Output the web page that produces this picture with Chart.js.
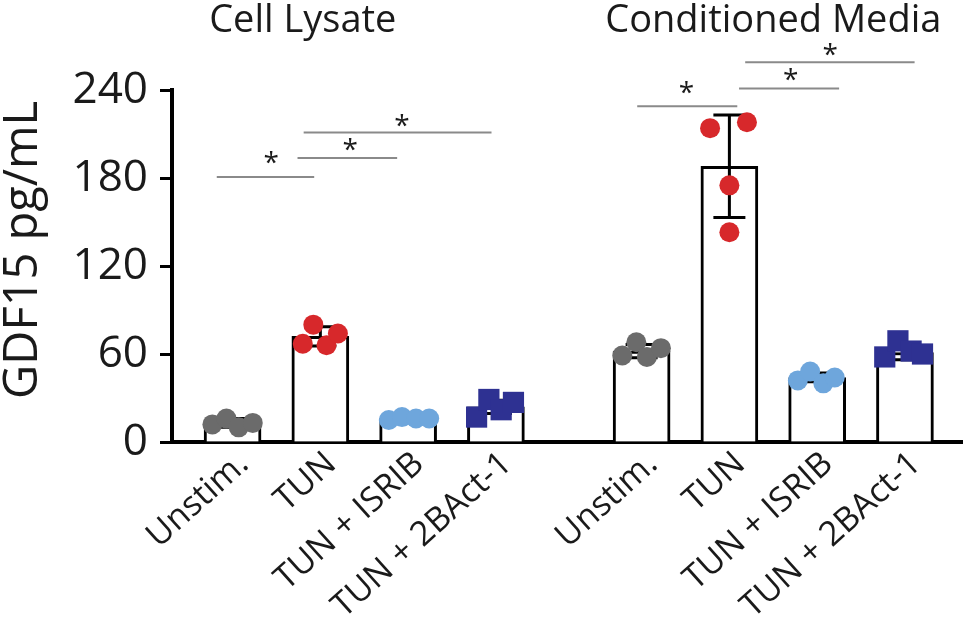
<!DOCTYPE html>
<html>
<head>
<meta charset="utf-8">
<script src="https://cdn.jsdelivr.net/npm/chart.js@4"></script>
<style>
  html, body { margin: 0; padding: 0; background: #fff; }
  #wrap { width: 977px; height: 638px; }
</style>
</head>
<body>
<div id="wrap"><canvas id="gdfChart"></canvas></div>
<script>
const categories = ["Unstim.", "TUN", "TUN + ISRIB", "TUN + 2BAct-1"];
const groupTitles = ["Cell Lysate", "Conditioned Media"];
const titlePositions = [0.8, 6.16];
const barPositions = [0, 1, 2, 3, 4.66, 5.66, 6.66, 7.66];
const yTicks = [0, 60, 120, 180, 240];
const yTitle = "GDF15 pg/mL";

// bar height (mean) and SD, cell lysate first then conditioned media
const barMeans = [13, 72, 16, 24, 62, 188, 44, 61];
const barErrors = [3, 6.5, 1, 4.5, 4.5, 35, 3, 5];

// replicates for each bar, left to right
const replicates = [
    [12, 16, 10, 13], [67, 80, 66, 74], [15, 17, 16, 16], [17, 29, 22, 27],
    [59, 68, 58, 64], [214, 218, 175, 143], [42, 48, 40, 44], [58, 69, 62, 60]
];
// sideways spread of the replicate dots
const jitter = [
    [-0.23, -0.07, 0.07, 0.23], [-0.2, -0.08, 0.07, 0.2], [-0.22, -0.07, 0.09, 0.24], [-0.22, -0.08, 0.06, 0.2],
    [-0.22, -0.06, 0.06, 0.22], [-0.22, 0.2, 0, 0], [-0.22, -0.08, 0.07, 0.2], [-0.23, -0.08, 0.07, 0.2]
];
const pointColors = ["#6b6b6b", "#d7282b", "#6ea6dc", "#2e3192"];

// significance lines: from/to/line value, star position
const sigBrackets = [
    { from: -0.18, to: 0.93, y: 180.7, sx: 0.44, sy: 193.6 },
    { from: 0.74, to: 1.875, y: 193.6, sx: 1.34, sy: 202.5 },
    { from: 0.81, to: 2.95, y: 211, sx: 1.93, sy: 218.9 },
    { from: 4.61, to: 5.75, y: 229, sx: 5.17, sy: 241.4 },
    { from: 5.77, to: 6.91, y: 241, sx: 6.36, sy: 250.2 },
    { from: 5.84, to: 7.77, y: 259, sx: 6.81, sy: 267.3 }
];

const FONT = "'Open Sans', sans-serif";
const INK = "#1a1a1a";

const scatterSets = categories.map((name, t) => {
    const pts = [];
    [t, t + 4].forEach(b => {
        replicates[b].forEach((v, r) => pts.push({ x: barPositions[b] + jitter[b][r], y: v }));
    });
    return {
        type: "scatter",
        label: name,
        data: pts,
        backgroundColor: pointColors[t],
        borderWidth: 0,
        pointStyle: t === 3 ? "rect" : "circle",
        pointRadius: t === 3 ? 15 : 10,
        pointHoverRadius: t === 3 ? 15 : 10,
        order: 1,
        clip: false
    };
});

const overlay = {
    id: "overlay",
    afterDatasetDraw(chart, args) {
        if (args.meta.type !== "bar") return;
        const { ctx, scales: { x, y } } = chart;
        ctx.save();
        ctx.strokeStyle = "#000";
        ctx.lineWidth = 3;
        barMeans.forEach((m, i) => {
            const px = x.getPixelForValue(barPositions[i]);
            const top = y.getPixelForValue(m + barErrors[i]);
            const bot = y.getPixelForValue(m - barErrors[i]);
            ctx.beginPath();
            ctx.moveTo(px, top); ctx.lineTo(px, bot);
            ctx.moveTo(px - 16, top); ctx.lineTo(px + 16, top);
            ctx.moveTo(px - 16, bot); ctx.lineTo(px + 16, bot);
            ctx.stroke();
        });
        ctx.restore();
    },
    afterDraw(chart) {
        const { ctx, scales: { x, y } } = chart;
        ctx.save();
        ctx.strokeStyle = "#8a8a8a";
        ctx.lineWidth = 2;
        ctx.fillStyle = INK;
        ctx.textAlign = "center";
        ctx.textBaseline = "middle";
        ctx.font = "28px " + FONT;
        sigBrackets.forEach(s => {
            const yy = y.getPixelForValue(s.y);
            ctx.beginPath();
            ctx.moveTo(x.getPixelForValue(s.from), yy);
            ctx.lineTo(x.getPixelForValue(s.to), yy);
            ctx.stroke();
            ctx.fillText("*", x.getPixelForValue(s.sx), y.getPixelForValue(s.sy) + 6);
        });
        ctx.font = "38px " + FONT;
        ctx.textBaseline = "alphabetic";
        groupTitles.forEach((t, i) => {
            ctx.fillText(t, x.getPixelForValue(titlePositions[i]), 32);
        });
        // y axis title, sits a little above the plot centre like the original
        ctx.font = "47px " + FONT;
        ctx.textBaseline = "middle";
        ctx.translate(24, y.getPixelForValue(131));
        ctx.rotate(-Math.PI / 2);
        ctx.fillText(yTitle, 0, 0);
        ctx.restore();
    }
};

new Chart(document.getElementById("gdfChart").getContext("2d"), {
    type: "bar",
    data: {
        datasets: [
            ...scatterSets,
            {
                type: "bar",
                label: "Mean",
                data: barMeans.map((m, i) => ({ x: barPositions[i], y: m })),
                backgroundColor: "#ffffff",
                borderColor: "#000000",
                borderWidth: 3,
                barThickness: 57,
                order: 2
            }
        ]
    },
    options: {
        responsive: true,
        maintainAspectRatio: false,
        animation: false,
        layout: { padding: { top: 90, right: 13, left: 0, bottom: 0 } },
        plugins: { legend: { display: false }, tooltip: { enabled: false } },
        scales: {
            x: {
                type: "linear",
                offset: false,
                min: -0.69,
                max: 8.31,
                afterBuildTicks: s => { s.ticks = barPositions.map(v => ({ value: v })); },
                afterFit: s => { s.height = 196; s.paddingLeft = 0; s.paddingRight = 0; },
                grid: { display: false, drawTicks: false },
                border: { display: true, color: "#000", width: 4 },
                ticks: {
                    autoSkip: false,
                    minRotation: 42,
                    maxRotation: 42,
                    padding: 2,
                    labelOffset: 11,
                    color: INK,
                    font: { family: FONT, size: 34 },
                    callback: (v, i) => categories[i % 4]
                }
            },
            y: {
                min: 0,
                max: 240,
                afterBuildTicks: s => { s.ticks = yTicks.map(v => ({ value: v })); },
                afterFit: s => { s.width = 172; },
                grid: { drawOnChartArea: false, drawTicks: true, tickLength: 12, tickWidth: 3, tickColor: "#000" },
                border: { display: true, color: "#000", width: 4 },
                ticks: {
                    padding: 12,
                    color: INK,
                    font: { family: FONT, size: 44 }
                }
            }
        }
    },
    plugins: [overlay]
});
</script>
</body>
</html>
